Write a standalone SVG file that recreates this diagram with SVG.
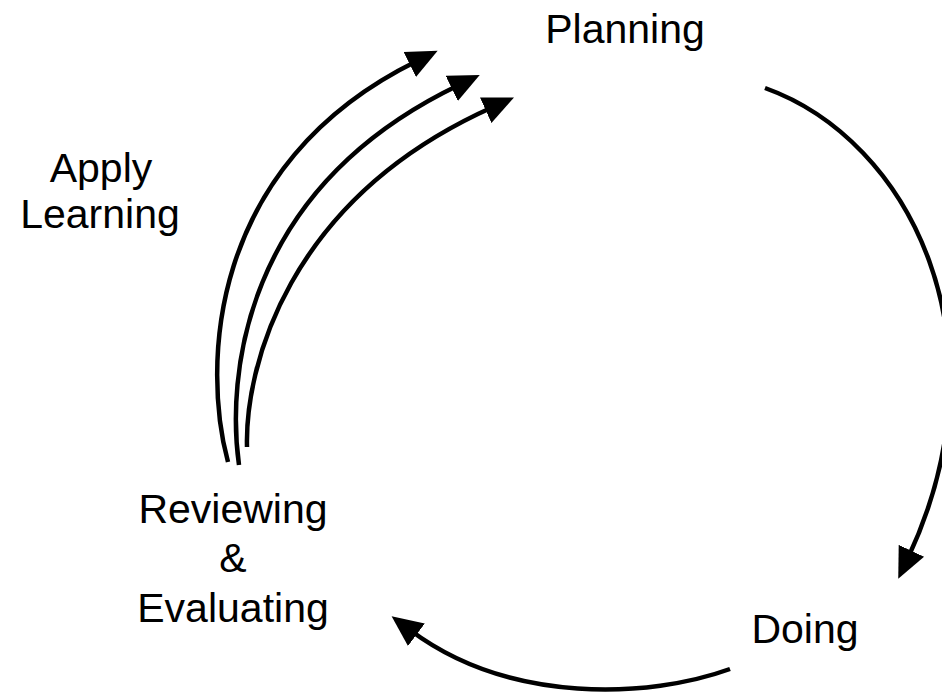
<svg xmlns="http://www.w3.org/2000/svg" width="942" height="695" viewBox="0 0 942 695">
<style>
.lbl{font-family:"Liberation Sans",Arial,sans-serif;font-size:41px;fill:#000;text-anchor:middle}
.arc{fill:none;stroke:#000;stroke-width:4.5}
</style>
<defs>
<marker id="ah" markerUnits="userSpaceOnUse" markerWidth="32" markerHeight="30" refX="8" refY="14" orient="auto" viewBox="0 0 32 28">
<path d="M0,0 L31,14 L0,28 z" fill="#000"/>
</marker>
</defs>
<rect width="942" height="695" fill="#fff"/>
<g id="connectors">
<path class="arc" marker-end="url(#ah)" d="M228,462 C203,370 205,165 417,61"/>
<path class="arc" marker-end="url(#ah)" d="M239,465 C227,380 240,190 459,85"/>
<path class="arc" marker-end="url(#ah)" d="M247,447 C245,370 285,200 493,107"/>
<path class="arc" marker-end="url(#ah)" d="M765,88 C910,140 1010,340 908,558"/>
<path class="arc" marker-end="url(#ah)" d="M730,669 C650,698 510,705 410,630"/>
</g>
<g id="node-planning"><text class="lbl" x="625" y="43">Planning</text></g>
<g id="node-doing"><text class="lbl" x="805" y="643">Doing</text></g>
<g id="node-reviewing"><text class="lbl" x="233" y="523">Reviewing</text><text class="lbl" x="233" y="572">&amp;</text><text class="lbl" x="233" y="622">Evaluating</text></g>
<g id="node-apply"><text class="lbl" x="101" y="182">Apply</text><text class="lbl" x="100" y="228">Learning</text></g>
</svg>
